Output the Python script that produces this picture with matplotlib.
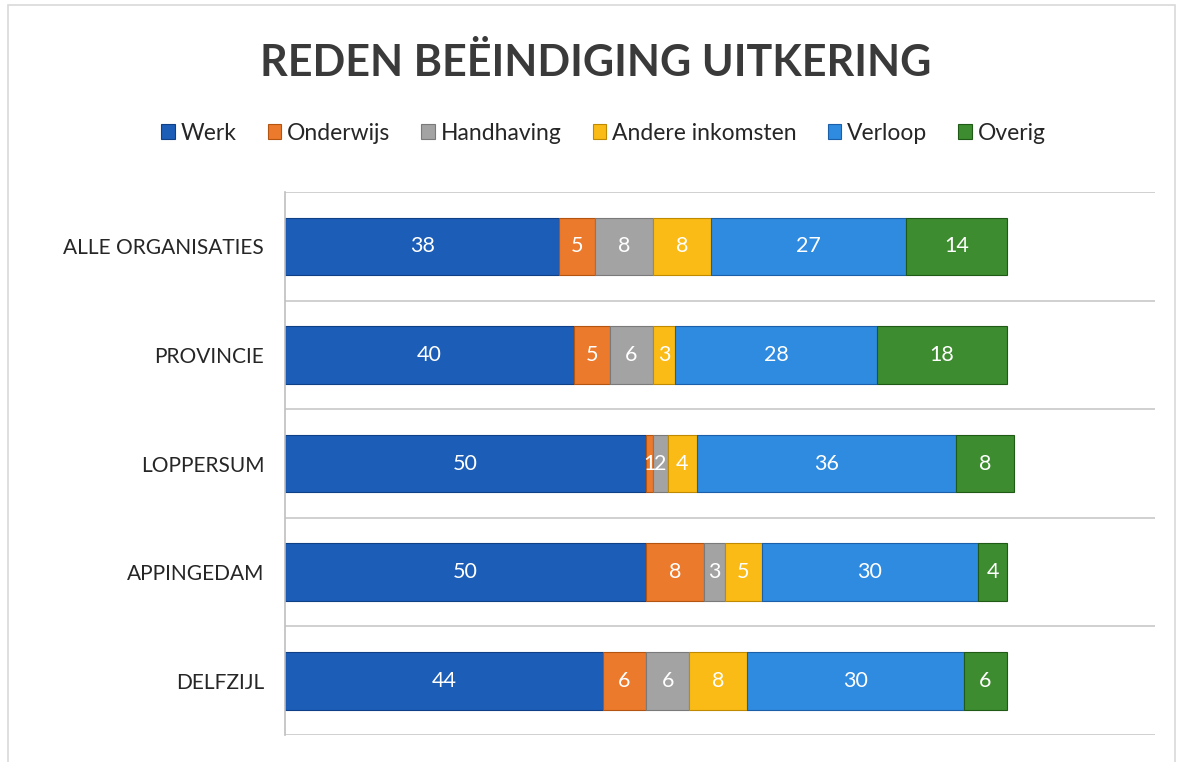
import matplotlib.pyplot as plt
import matplotlib.patches as mpatches
import numpy as np

categories = ["ALLE ORGANISATIES", "PROVINCIE", "LOPPERSUM", "APPINGEDAM", "DELFZIJL"]
series_names = ["Werk", "Onderwijs", "Handhaving", "Andere inkomsten", "Verloop", "Overig"]
werk = [38, 40, 50, 50, 44]
onderwijs = [5, 5, 1, 8, 6]
handhaving = [8, 6, 2, 3, 6]
andere = [8, 3, 4, 5, 8]
verloop = [27, 28, 36, 30, 30]
overig = [14, 18, 8, 4, 6]

colors = ["#1c5db8", "#ec7a2c", "#a3a3a3", "#fbbb16", "#2f8be0", "#3d8c2f"]
edges = ["#0f3f85", "#b35510", "#7a7a7a", "#c08a00", "#1a5fa8", "#1f5a16"]

plt.rcParams['font.family'] = ['Lato', 'DejaVu Sans']

fig = plt.figure(figsize=(11.79, 7.62), dpi=100)
ax = fig.add_axes([0.2417, 0.0354, 0.738, 0.7126])

# light frame of the original chart area
fig.patches.append(mpatches.Rectangle((0.007, -0.01), 0.99, 1.003, transform=fig.transFigure,
                                      fill=False, edgecolor="#d9d9d9", linewidth=1.2))

y = np.arange(len(categories))
left = np.zeros(len(categories))
for name, vals, c, ec in zip(series_names, [werk, onderwijs, handhaving, andere, verloop, overig], colors, edges):
    bars = ax.barh(y, vals, left=left, height=0.53, color=c, edgecolor=ec, linewidth=0.8, label=name)
    ax.bar_label(bars, labels=[str(v) for v in vals], label_type="center", color="white",
                 fontsize=15.5)
    left += np.array(vals)

ax.set_xlim(0, 120.5)
ax.set_ylim(len(categories) - 0.5, -0.5)
ax.set_xticks([])
ax.set_yticks(y)
ax.set_yticklabels(categories, fontsize=15, color="#262626")
ax.tick_params(axis="y", length=0, pad=15)
ax.set_yticks(np.arange(-0.5, len(categories), 1), minor=True)
ax.tick_params(axis="y", which="minor", length=0)
ax.grid(which="minor", axis="y", color="#c8c8c8", linewidth=1.2)
ax.set_axisbelow(True)
for s in ["top", "right", "bottom"]:
    ax.spines[s].set_visible(False)
ax.spines["left"].set_color("#bfbfbf")
ax.spines["left"].set_linewidth(1.2)

fig.text(0.505, 0.917, "REDEN BEËINDIGING UITKERING", ha="center", va="center",
         fontsize=31, fontweight="bold", color="#3a3a3a")

ax.legend(loc="center", bbox_to_anchor=(0.512, 0.825), bbox_transform=fig.transFigure,
          ncol=6, frameon=False, fontsize=16.5, handlelength=0.6, handleheight=0.6,
          handletextpad=0.25, columnspacing=1.35, labelcolor="#262626")

fig.savefig("out.png", dpi=100)
